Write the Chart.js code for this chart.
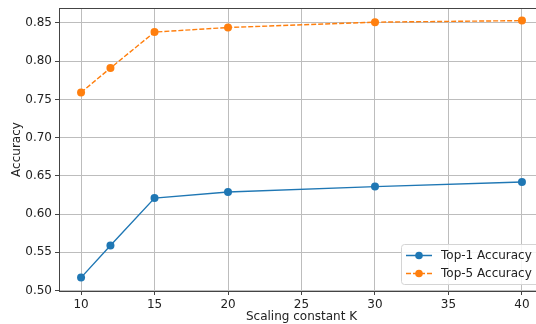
<!DOCTYPE html>
<html>
<head>
<meta charset="utf-8">
<script src="https://cdn.jsdelivr.net/npm/chart.js@4"></script>
<style>
  html, body { margin: 0; padding: 0; background: #fff; overflow: hidden; }
  #wrap { width: 548px; height: 324px; position: relative; }
</style>
</head>
<body>
<div id="wrap"><canvas id="chart"></canvas></div>
<script>
// valeurs
var valeursK = [10, 12, 15, 20, 30, 40];
var top1 = [0.517, 0.559, 0.621, 0.629, 0.636, 0.642];
var top5 = [0.759, 0.791, 0.838, 0.844, 0.851, 0.853];
var ticksX = [10, 15, 20, 25, 30, 35, 40];
var ticksY = [0.50, 0.55, 0.60, 0.65, 0.70, 0.75, 0.80, 0.85];

var police = 'DejaVu Sans';
Chart.defaults.font.family = police;
Chart.defaults.font.size = 12;
Chart.defaults.color = '#222';

function points(ys) {
  return valeursK.map(function (k, i) { return { x: k, y: ys[i] }; });
}

// legende dessinee dans le graphique (en bas a droite, comme matplotlib)
var legendeInterne = {
  id: 'legendeInterne',
  afterDraw: function (chart) {
    var c = chart.ctx, a = chart.chartArea;
    var x0 = 401.5, y0 = 244.5, w = 140, h = 40;
    c.save();
    c.fillStyle = 'rgba(255,255,255,0.85)';
    c.strokeStyle = '#d4d4d4';
    c.lineWidth = 1;
    c.beginPath();
    c.roundRect(x0, y0, w, h, 3);
    c.fill(); c.stroke();
    chart.data.datasets.forEach(function (ds, i) {
      var y = 255.5 + i * 18;
      c.strokeStyle = ds.borderColor;
      c.lineWidth = 1.5;
      c.setLineDash(ds.borderDash || []);
      c.beginPath(); c.moveTo(406, y); c.lineTo(432, y); c.stroke();
      c.setLineDash([]);
      c.fillStyle = ds.backgroundColor;
      c.beginPath(); c.arc(419, y, 3.8, 0, Math.PI * 2); c.fill();
      c.fillStyle = '#222';
      c.font = '12px ' + police;
      c.textBaseline = 'middle';
      c.fillText(ds.label, 441, y + 0.5);
    });
    // cadre haut
    c.strokeStyle = '#444';
    c.lineWidth = 1;
    c.beginPath(); c.moveTo(a.left, a.top + 0.5); c.lineTo(a.right, a.top + 0.5); c.stroke();
    c.restore();
  }
};

new Chart(document.getElementById('chart'), {
  type: 'line',
  data: {
    datasets: [{
      label: 'Top-1 Accuracy',
      data: points(top1),
      borderColor: '#1f77b4',
      backgroundColor: '#1f77b4',
      borderWidth: 1.4,
      pointRadius: 4,
      pointBorderWidth: 0,
      tension: 0
    }, {
      label: 'Top-5 Accuracy',
      data: points(top5),
      borderColor: '#ff7f0e',
      backgroundColor: '#ff7f0e',
      borderWidth: 1.4,
      borderDash: [5, 2],
      pointRadius: 4,
      pointBorderWidth: 0,
      tension: 0
    }]
  },
  options: {
    responsive: true,
    maintainAspectRatio: false,
    animation: false,
    layout: { padding: { top: 8, left: 0, right: 0, bottom: 0 } },
    plugins: {
      legend: { display: false },
      tooltip: { enabled: false }
    },
    scales: {
      x: {
        type: 'linear',
        min: 8.5,
        max: 41.5,
        afterBuildTicks: function (s) {
          s.ticks = ticksX.map(function (v) { return { value: v }; });
        },
        ticks: { padding: 3, maxRotation: 0 },
        grid: { color: '#bdbdbd', tickLength: 4, tickColor: '#444' },
        border: { color: '#444', width: 1 },
        title: { display: true, text: 'Scaling constant K', padding: { top: 0, bottom: 0 } },
        afterFit: function (s) { s.height = 33; s.paddingLeft = 0; s.paddingRight = 0; }
      },
      y: {
        min: 0.4995,
        max: 0.8695,
        afterBuildTicks: function (s) {
          s.ticks = ticksY.map(function (v) { return { value: v }; });
        },
        ticks: {
          padding: 3,
          callback: function (v) { return v.toFixed(2); }
        },
        grid: { color: '#bdbdbd', tickLength: 4, tickColor: '#444' },
        border: { color: '#444', width: 1 },
        title: { display: true, text: 'Accuracy', padding: { top: 10, bottom: 0 } },
        afterFit: function (s) { s.width = 59; s.paddingTop = 0; s.paddingBottom = 0; }
      }
    }
  },
  plugins: [legendeInterne]
});
</script>
</body>
</html>
